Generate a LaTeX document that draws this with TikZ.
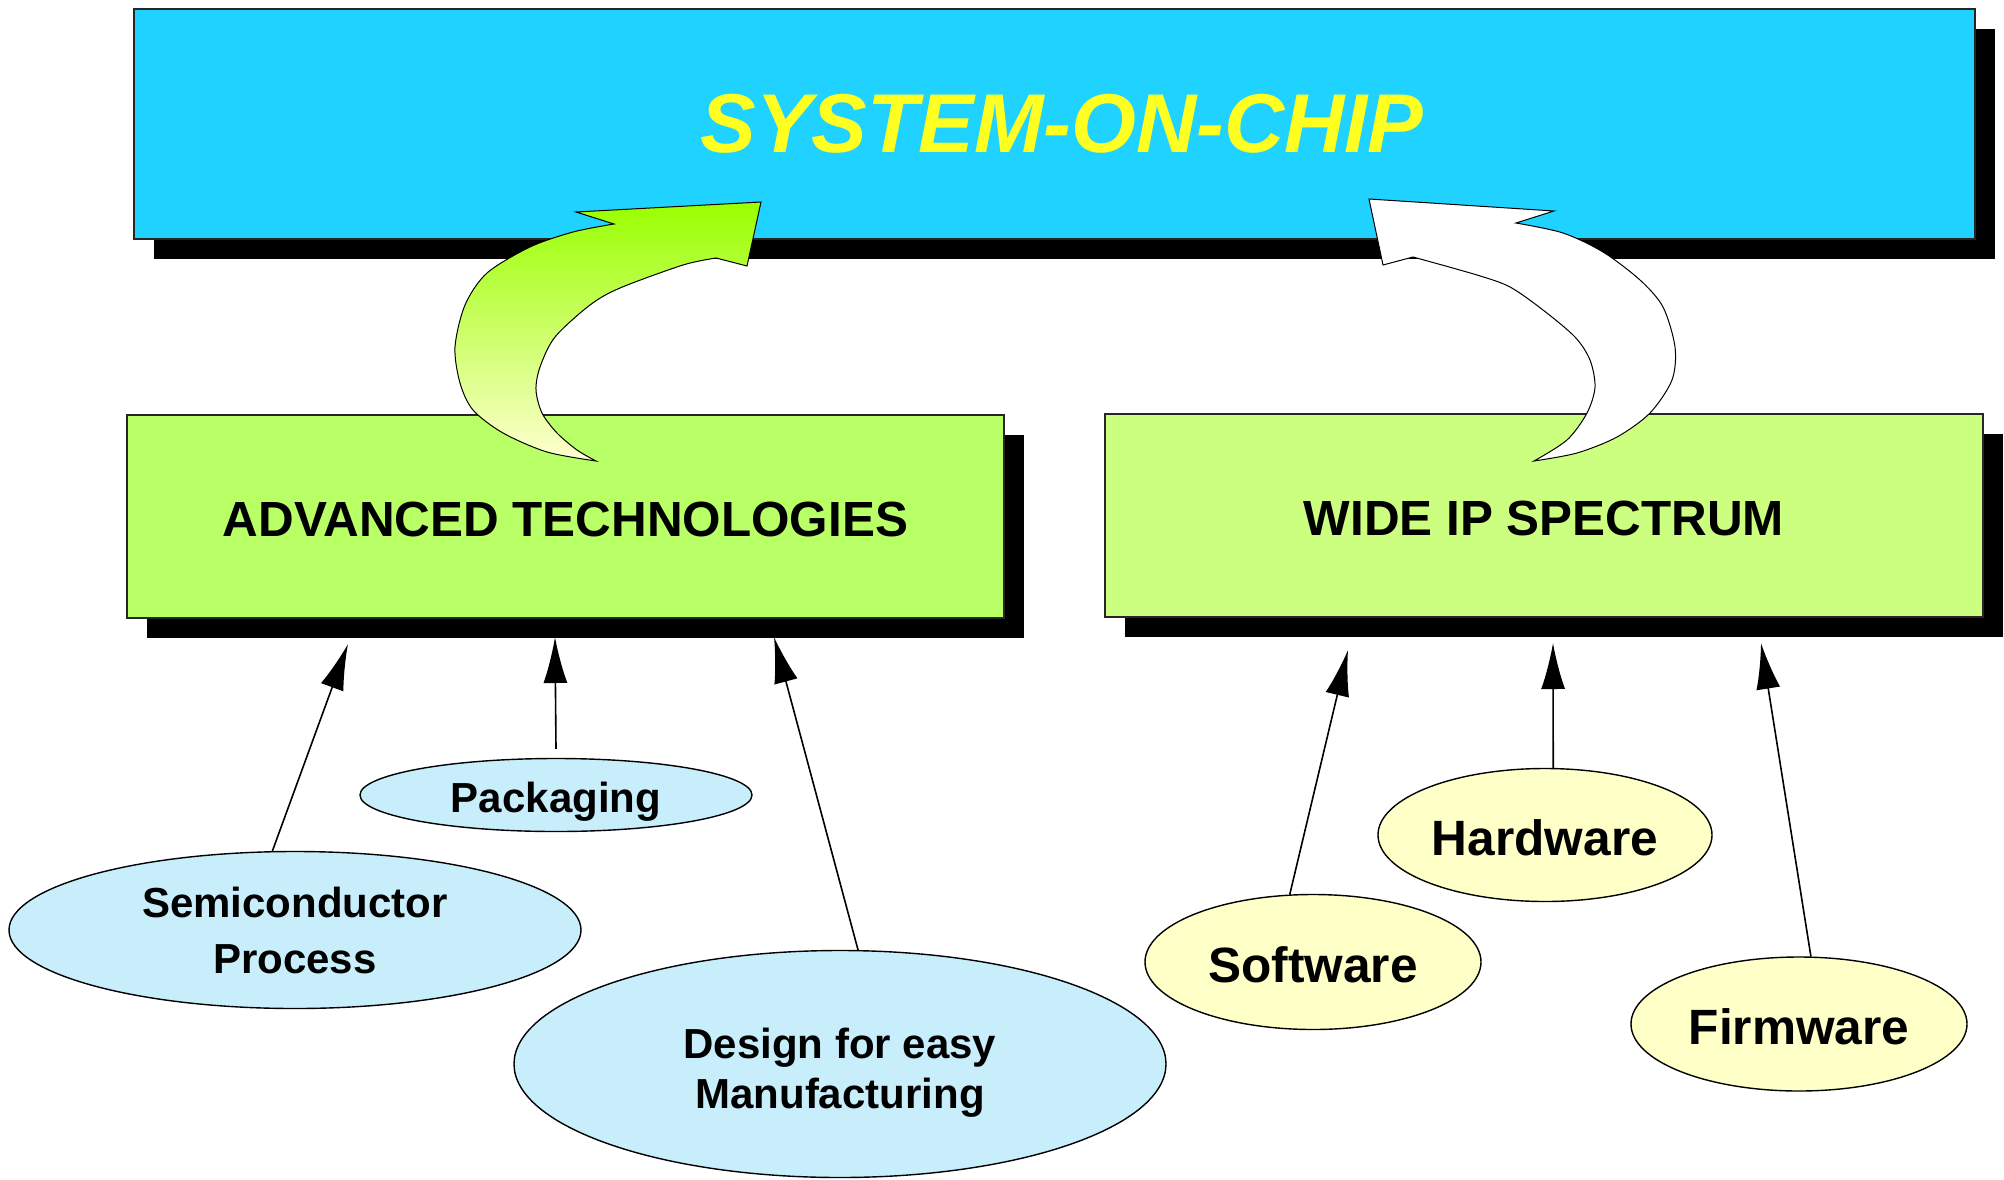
\documentclass[tikz,border=0pt]{standalone}
\usepackage{fontspec}
\setmainfont{Liberation Sans}
\usetikzlibrary{shapes.geometric,arrows.meta,shadows}
\definecolor{chipcyan}{HTML}{20D2FF}
\definecolor{techgreen}{HTML}{B9FF66}
\definecolor{ipgreen}{HTML}{CCFF80}
\definecolor{blueoval}{HTML}{C8EEFC}
\definecolor{yellowoval}{HTML}{FFFFC8}
\definecolor{titleyellow}{HTML}{FFFF22}
\definecolor{arrowgreen}{HTML}{99FF00}
\definecolor{arrowpale}{HTML}{FFFFD0}
% lowers a one-line label without changing the size of its box
\newcommand\setlabel[2]{\raisebox{#1}[\height][\depth]{#2}}
\begin{document}
\begin{tikzpicture}[x=0.5pt,y=-0.5pt,
  boxshadow/.style={drop shadow={shadow xshift=10pt,shadow yshift=-10pt,fill=black,opacity=1}},
  panel/.style={rectangle,draw=black!85,line width=1.2pt,inner sep=0pt,boxshadow},
  oval/.style={ellipse,draw=black,line width=0.7pt,inner sep=0pt,align=center},
  blueoval/.style={oval,fill=blueoval,font=\fontsize{21}{27}\selectfont\bfseries},
  yellowoval/.style={oval,fill=yellowoval,font=\fontsize{24.8}{30}\selectfont\bfseries},
  feed/.style={line width=0.8pt,-{Latex[length=23pt,width=12pt]}},
  bigarrow/.style={draw=black,line width=0.5pt}]
\useasboundingbox (0,0) rectangle (2004,1179);

% main panels
\node[panel,fill=chipcyan,minimum width=920.5pt,minimum height=115pt] (soc) at (1054.5,124) {};
\node[font=\fontsize{41.7}{50}\selectfont\bfseries\itshape,text=titleyellow] (soctext) at (1062,124) {SYSTEM-ON-CHIP};
\node[panel,fill=techgreen,minimum width=438.5pt,minimum height=101.5pt,
      font=\fontsize{24.7}{30}\selectfont\bfseries] (tech) at (565.5,516.5) {\setlabel{-1.3pt}{ADVANCED TECHNOLOGIES}};
\node[panel,fill=ipgreen,minimum width=439pt,minimum height=101.5pt,
      font=\fontsize{24.7}{30}\selectfont\bfseries] (ip) at (1544,515.5) {\setlabel{-1.3pt}{WIDE IP SPECTRUM}};

% contributing topics
\node[blueoval,minimum width=286pt,minimum height=78.5pt,font=\fontsize{21}{28}\selectfont\bfseries] (semi) at (295,930) {Semiconductor\\Process};
\node[blueoval,minimum width=196pt,minimum height=36.5pt] (pack) at (556,795) {\setlabel{-3.2pt}{Packaging}};
\node[blueoval,minimum width=326pt,minimum height=113.5pt,
      label={[font=\fontsize{21}{25}\selectfont\bfseries,align=center,yshift=-4.2pt]center:Design for easy\\Manufacturing}] (dfm) at (840,1064) {};
\node[yellowoval,minimum width=168pt,minimum height=67.5pt] (sw) at (1313,962) {\setlabel{-1.6pt}{Software}};
\node[yellowoval,minimum width=167pt,minimum height=66.5pt] (hw) at (1545,835) {\setlabel{-1.6pt}{Hardware}};
\node[yellowoval,minimum width=168pt,minimum height=67pt] (fw) at (1799,1024) {\setlabel{-1.6pt}{Firmware}};

% arrow tips just under the panel shadows
\coordinate (tsemi) at (348,644);
\coordinate (tpack) at (555,637);
\coordinate (tdfm) at (774,637);
\coordinate (tsw) at (1348,650);
\coordinate (thw) at (1553,643);
\coordinate (tfw) at (1761,643);

\draw[feed] (semi.106) -- (tsemi);
\draw[feed] ([yshift=4.5pt]pack.north) -- (tpack);
\draw[feed] (dfm.81) -- (tdfm);
\draw[feed] (sw.109) -- (tsw);
\draw[feed] (hw.83) -- (thw);
\draw[feed] (fw.80) -- (tfw);

% curved arrow: technologies into the chip
\path[bigarrow,top color=arrowgreen,bottom color=arrowpale]
  (761,202) -- (747,266) -- (716,258)
  -- plot[smooth] coordinates {(716,258) (683,265) (620,288) (590,305) (555,337) (540,367) (536,390) (542,413) (557,433) (577,450) (596,461)}
  -- plot[smooth] coordinates {(596,461) (547,452) (503,433) (473,410) (460,383) (455,347) (465,305) (487,273) (530,247) (573,232) (614,224)}
  -- (576,212) -- cycle;

% curved arrow: IP spectrum into the chip
\path[bigarrow,fill=white]
  (1369,199) -- (1554,211) -- (1516,223)
  -- plot[smooth] coordinates {(1516,223) (1563,233) (1603,252) (1640,280) (1663,307) (1675,347) (1672,380) (1650,413) (1617,437) (1577,453) (1534,461)}
  -- plot[smooth] coordinates {(1534,461) (1567,440) (1587,413) (1595,387) (1590,360) (1575,337) (1543,310) (1510,287) (1477,275) (1413,257)}
  -- (1383,265) -- cycle;
\end{tikzpicture}
\end{document}
